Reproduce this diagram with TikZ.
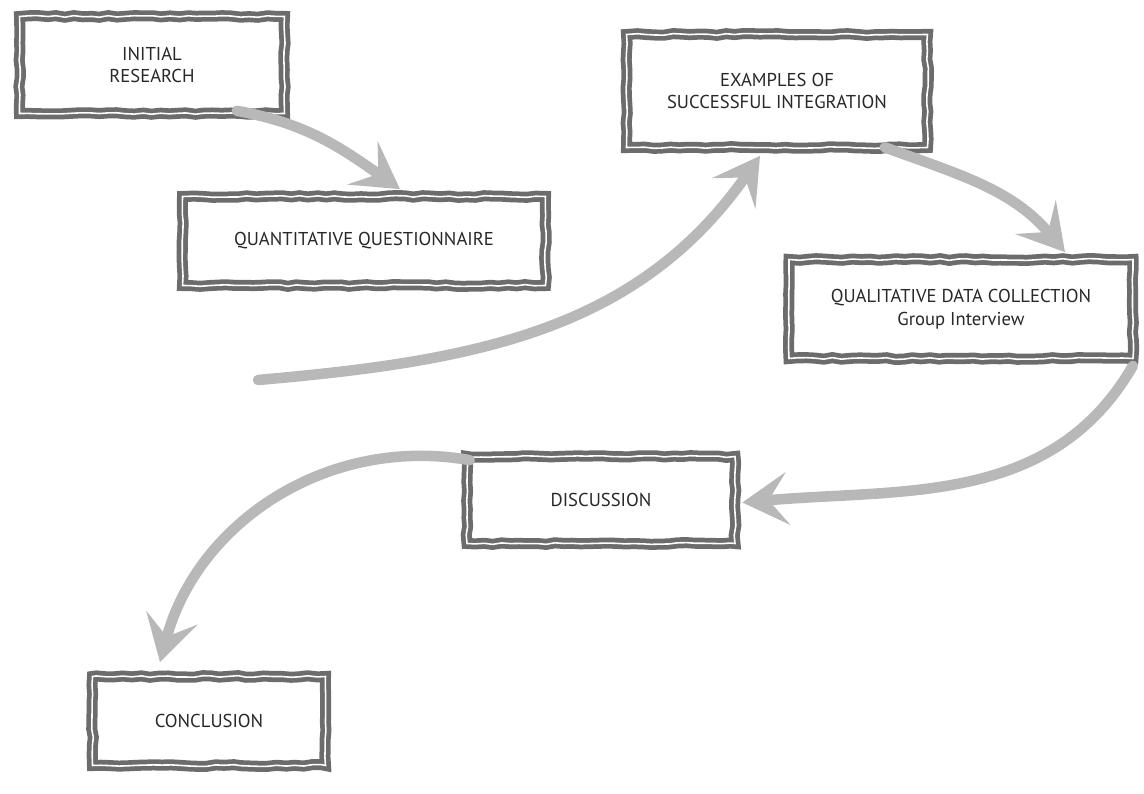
\documentclass[tikz,border=0pt]{standalone}
\usepackage{fontspec}
\setmainfont{PT Sans}
\usepackage{tikz}
\usetikzlibrary{arrows.meta, positioning, decorations.pathmorphing}
\definecolor{framegrey}{RGB}{108, 108, 108}
\definecolor{brushgrey}{RGB}{184, 184, 184}
\definecolor{inkgrey}{RGB}{40, 40, 40}
\tikzset{
  stage/.style={
    draw=framegrey,
    line width=2.7pt,
    double=white,
    double distance=0.9pt,
    fill=white,
    align=center,
    inner sep=2pt,
    font=\fontsize{10.6}{13}\selectfont\color{inkgrey},
    decorate,
    decoration={random steps, segment length=5pt, amplitude=0.5pt}
  },
  brush/.style={
    draw=brushgrey,
    line width=6pt,
    line cap=round,
    -{Stealth[length=26pt, width=30pt, inset=11pt]}
  }
}

\begin{document}
\begin{tikzpicture}[x=0.02cm, y=0.02cm]
  \pgfmathsetseed{11}
  \useasboundingbox (0,0) rectangle (1144,794);

  \node[stage, minimum width=5.3cm, minimum height=1.94cm] (research) at (152,729) {INITIAL\\RESEARCH};
  \node[stage, minimum width=7.26cm, minimum height=1.78cm] (quant) at (364,553) {QUANTITATIVE QUESTIONNAIRE};
  \node[stage, minimum width=6.02cm, minimum height=2.26cm] (examples) at (777,703) {EXAMPLES OF\\SUCCESSFUL INTEGRATION};
  \node[stage, minimum width=6.88cm, minimum height=1.98cm] (qual) at (961,485) {QUALITATIVE DATA COLLECTION\\Group Interview};
  \node[stage, minimum width=5.36cm, minimum height=1.74cm] (discuss) at (601,294) {DISCUSSION};
  \node[stage, minimum width=4.66cm, minimum height=1.78cm] (concl) at (209,73) {CONCLUSION};

  \coordinate (sweep) at (258,414);

  \draw[brush] ([xshift=-1cm, yshift=0.1cm]research.south east) to[out=-10, in=145] ([xshift=0.72cm, yshift=0.1cm]quant.north);
  \draw[brush] (sweep) to[out=5, in=235] ([xshift=-0.34cm, yshift=-0.12cm]examples.south);
  \draw[brush] ([xshift=-0.9cm, yshift=0.05cm]examples.south east) to[out=-20, in=130] ([xshift=2.08cm, yshift=0.1cm]qual.north);
  \draw[brush] ([xshift=-0.05cm, yshift=-0.1cm]qual.south east) to[out=240, in=5] ([xshift=0.1cm, yshift=-0.05cm]discuss.east);
  \draw[brush] ([xshift=0.1cm, yshift=-0.12cm]discuss.north west) to[out=170, in=75] ([xshift=-0.98cm, yshift=0.24cm]concl.north);
\end{tikzpicture}
\end{document}
